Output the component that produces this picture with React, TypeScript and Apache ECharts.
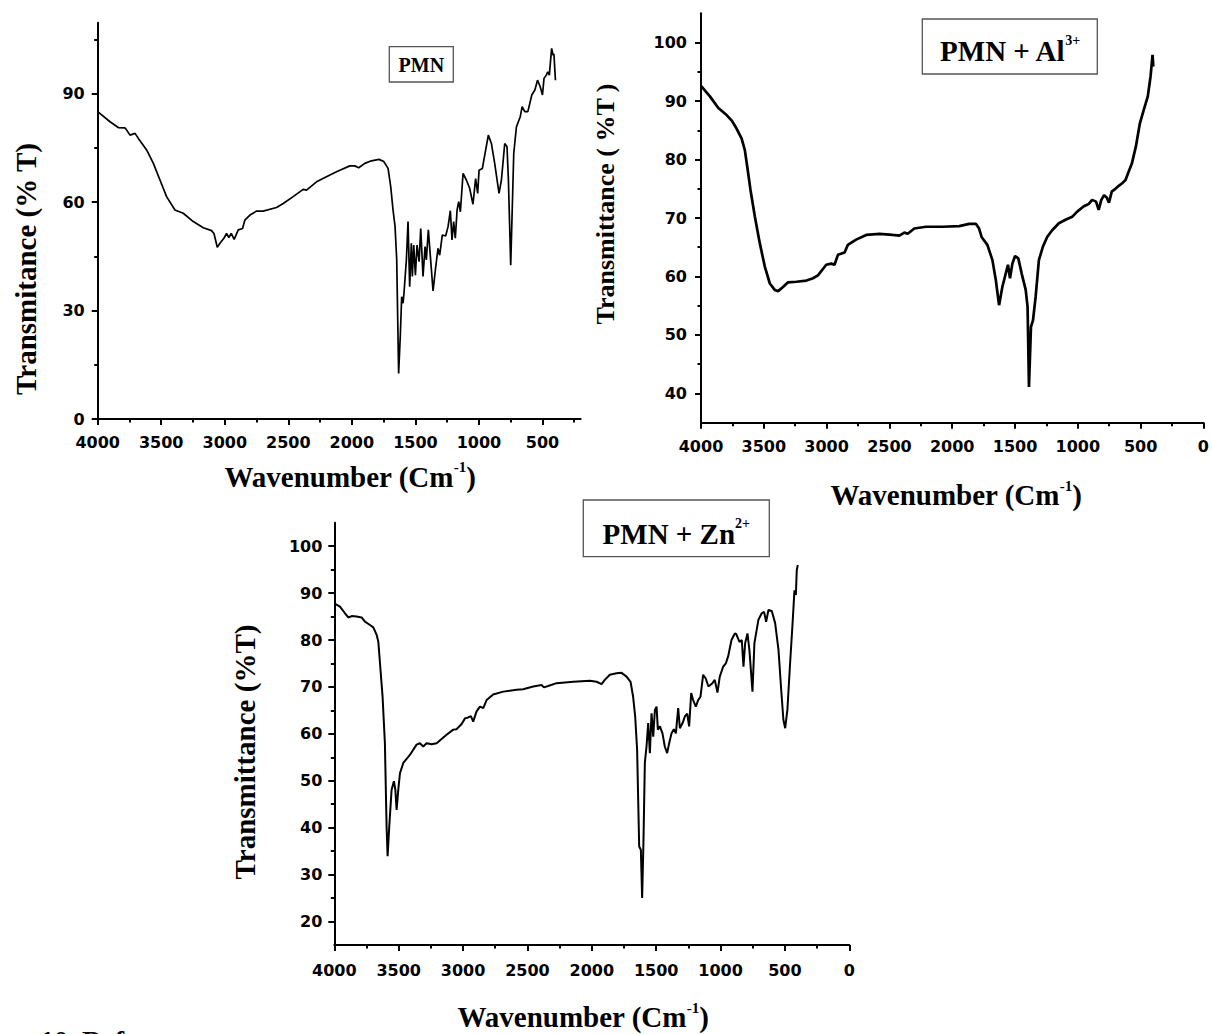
import React, { useEffect, useRef } from "react";
import * as echarts from "echarts";

// ---------- data ----------
const pmnWavenumber = [4000, 3903, 3838, 3785, 3772, 3746, 3706, 3680, 3615, 3562, 3510, 3458, 3392, 3327, 3248, 3169, 3104, 3085, 3059, 3038, 3007, 2986, 2968, 2949, 2926, 2894, 2860, 2842, 2802, 2750, 2698, 2593, 2540, 2462, 2383, 2357, 2278, 2200, 2121, 2016, 1977, 1946, 1898, 1846, 1786, 1749, 1715, 1694, 1676, 1660, 1647, 1632, 1618, 1608, 1597, 1590, 1571, 1558, 1545, 1532, 1524, 1513, 1500, 1487, 1471, 1458, 1440, 1424, 1414, 1398, 1382, 1361, 1340, 1322, 1309, 1288, 1262, 1243, 1225, 1212, 1199, 1186, 1172, 1159, 1146, 1125, 1099, 1073, 1047, 1026, 1010, 999, 973, 926, 902, 876, 842, 823, 797, 779, 768, 750, 726, 705, 675, 660, 639, 615, 584, 560, 539, 518, 500, 488, 470, 458, 446, 428, 416, 410, 398];
const pmnTransmittance = [85, 82.2, 80.6, 80.5, 79.9, 78.5, 79, 77.6, 74.4, 70.7, 66.1, 61.5, 57.8, 56.9, 54.6, 52.9, 52.1, 51.3, 47.5, 48.6, 50, 51.3, 50.2, 51.3, 49.7, 52.3, 52.7, 55, 56.4, 57.5, 57.5, 58.5, 59.6, 61.5, 63.5, 63.3, 65.6, 67, 68.4, 70, 70, 69.5, 70.7, 71.4, 71.8, 71.2, 69.3, 64.2, 57.8, 53.2, 44, 12.6, 23.7, 33.8, 32, 34.7, 44, 54.6, 36.6, 48.6, 39.4, 48.1, 39.8, 48.1, 43.5, 52.7, 39.4, 47.7, 44, 52.3, 44.9, 35.4, 42.1, 47.2, 45.3, 50.9, 50.6, 53.2, 57.6, 49.5, 54.6, 50, 57.8, 60.1, 57.3, 67.9, 66.1, 63.8, 59.4, 66.5, 62.4, 68.8, 69.3, 78.5, 76.2, 70.7, 62.4, 66.1, 76.2, 75.3, 66, 42.5, 73.5, 80.8, 83.6, 86.4, 85, 85, 89.6, 91, 93.7, 91.9, 89.6, 94.2, 95.1, 96, 95.1, 102.5, 100.6, 101, 93.7];

const alWavenumber = [4000, 3929, 3862, 3796, 3757, 3717, 3677, 3651, 3632, 3606, 3571, 3532, 3492, 3452, 3413, 3386, 3347, 3307, 3241, 3161, 3108, 3069, 3003, 2963, 2937, 2910, 2857, 2831, 2765, 2685, 2579, 2474, 2421, 2381, 2354, 2302, 2209, 2077, 1944, 1865, 1812, 1786, 1765, 1720, 1680, 1653, 1627, 1601, 1574, 1556, 1540, 1521, 1500, 1474, 1447, 1415, 1400, 1389, 1373, 1357, 1336, 1310, 1278, 1243, 1204, 1151, 1098, 1045, 1005, 952, 913, 886, 855, 834, 813, 791, 770, 752, 730, 712, 680, 649, 620, 601, 570, 538, 506, 475, 443, 421, 405, 399];
const alTransmittance = [92.6, 90.8, 88.8, 87.6, 86.7, 85.3, 83.6, 81.6, 78.8, 74.8, 70.2, 65.7, 61.7, 58.8, 57.7, 57.5, 58.2, 59, 59.1, 59.3, 59.7, 60.2, 62, 62.2, 62, 63.7, 64.1, 65.4, 66.3, 67.1, 67.3, 67.1, 67, 67.5, 67.3, 68.2, 68.5, 68.5, 68.6, 69, 69, 68.2, 66.7, 65.4, 62.8, 59.4, 55.1, 58.2, 60.5, 62, 59.7, 62.2, 63.5, 63.1, 60.5, 57.7, 54.8, 41.1, 51.4, 52.5, 56.5, 62.8, 65.1, 66.8, 67.9, 69.1, 69.7, 70.2, 71.1, 72, 72.4, 73.1, 72.8, 71.4, 73.1, 73.9, 73.5, 72.6, 74.5, 74.8, 75.4, 75.9, 76.5, 77.6, 79.3, 82.2, 86.2, 88.5, 90.8, 94.2, 97.9, 95.9];

const znWavenumber = [4000, 3956, 3917, 3891, 3865, 3827, 3788, 3762, 3723, 3697, 3671, 3658, 3645, 3625, 3607, 3594, 3586, 3573, 3555, 3537, 3526, 3516, 3503, 3490, 3464, 3413, 3361, 3335, 3309, 3283, 3244, 3205, 3167, 3128, 3076, 3050, 3011, 2985, 2960, 2939, 2921, 2895, 2869, 2843, 2817, 2766, 2688, 2584, 2533, 2455, 2390, 2372, 2339, 2274, 2144, 2015, 1963, 1924, 1899, 1860, 1808, 1769, 1730, 1699, 1679, 1663, 1648, 1632, 1619, 1609, 1599, 1588, 1575, 1562, 1549, 1536, 1523, 1510, 1497, 1487, 1471, 1451, 1433, 1415, 1399, 1381, 1363, 1347, 1329, 1316, 1295, 1277, 1259, 1244, 1228, 1213, 1192, 1174, 1156, 1135, 1115, 1094, 1063, 1045, 1024, 1006, 980, 959, 941, 915, 889, 879, 853, 835, 822, 809, 791, 776, 752, 737, 724, 706, 680, 662, 646, 628, 602, 576, 550, 529, 512, 498, 481, 460, 439, 426, 415, 408, 400];
const znTransmittance = [87.8, 87.1, 85.7, 84.8, 85.1, 85, 84.8, 83.9, 83.2, 82.7, 81.1, 79.6, 75, 67.9, 58, 40.3, 33.9, 40.3, 48.1, 49.9, 48.1, 43.8, 48.1, 51.6, 53.8, 55.5, 57.7, 58, 57.3, 58, 57.8, 58, 58.9, 59.8, 60.9, 61, 62.1, 63.3, 63.5, 63.8, 62.6, 64.8, 65.8, 65.5, 67.2, 68.4, 69, 69.4, 69.5, 70.1, 70.4, 69.9, 70.2, 70.8, 71.1, 71.3, 71.1, 70.6, 71.5, 72.6, 72.9, 73, 72.2, 71.1, 67.9, 63.7, 56.6, 36, 35.3, 25, 36.7, 53.8, 57.3, 62.3, 55.9, 64.4, 59.4, 65.1, 65.8, 60.9, 61.6, 60.1, 57.3, 55.9, 58, 60.1, 61, 60.1, 65.5, 61.2, 62.3, 63.7, 64.3, 61.6, 68.7, 67.2, 65.8, 67.2, 67.9, 72.6, 71.8, 70.1, 70.8, 71.5, 68.8, 72.2, 74.3, 75, 76.5, 80, 81.4, 81.3, 79.6, 80, 74.3, 79.3, 81.4, 77.9, 69, 79.3, 81.4, 84.3, 85.7, 86, 83.9, 86.4, 86.2, 83.6, 77.9, 69.4, 63, 61.2, 65.1, 75, 84.3, 90.6, 89.6, 94.9, 96];

// tick labels / tick positions
const p1XMajor = [4000, 3500, 3000, 2500, 2000, 1500, 1000, 500];
const p1XMinor = [3750, 3250, 2750, 2250, 1750, 1250, 750, 250];
const p1YMajor = [0, 30, 60, 90];
const p1YMinor = [15, 45, 75, 105];
const p2XMajor = [4000, 3500, 3000, 2500, 2000, 1500, 1000, 500, 0];
const p2XMinor = [3750, 3250, 2750, 2250, 1750, 1250, 750, 250];
const p2YMajor = [40, 50, 60, 70, 80, 90, 100];
const p2YMinor = [45, 55, 65, 75, 85, 95];
const p3XMajor = [4000, 3500, 3000, 2500, 2000, 1500, 1000, 500, 0];
const p3XMinor = [3750, 3250, 2750, 2250, 1750, 1250, 750, 250];
const p3YMajor = [20, 30, 40, 50, 60, 70, 80, 90, 100];
const p3YMinor = [25, 35, 45, 55, 65, 75, 85, 95];

const SERIF = "'Liberation Serif', 'Times New Roman', serif";
const SANS = "'DejaVu Sans', sans-serif";

function pairs(xs: number[], ys: number[]) {
  return xs.map((x, i) => [x, ys[i]]);
}

const plainNumber = (v: number) => String(v);

function xAxisMain(grid: number, min: number, max: number, major: number[], margin: number) {
  return {
    type: "value", gridIndex: grid, min, max, inverse: true, position: "bottom",
    axisLine: { show: true, onZero: false, lineStyle: { color: "#000", width: 2 } },
    axisTick: { show: true, customValues: major, length: 6, lineStyle: { color: "#000", width: 2 } },
    axisLabel: { show: true, customValues: major, formatter: plainNumber, margin, color: "#000", fontFamily: SANS, fontWeight: "bold", fontSize: 16, hideOverlap: false },
    splitLine: { show: false },
  };
}
function xAxisMinor(grid: number, min: number, max: number, minor: number[]) {
  return {
    type: "value", gridIndex: grid, min, max, inverse: true, position: "bottom",
    axisLine: { show: false, onZero: false },
    axisTick: { show: true, customValues: minor, length: 3.5, lineStyle: { color: "#000", width: 2 } },
    axisLabel: { show: false },
    splitLine: { show: false },
  };
}
function yAxisMain(grid: number, min: number, max: number, major: number[], margin: number) {
  return {
    type: "value", gridIndex: grid, min, max, position: "left",
    axisLine: { show: true, onZero: false, lineStyle: { color: "#000", width: 2 } },
    axisTick: { show: true, customValues: major, length: 6, lineStyle: { color: "#000", width: 2 } },
    axisLabel: { show: true, customValues: major, formatter: plainNumber, margin, color: "#000", fontFamily: SANS, fontWeight: "bold", fontSize: 16, hideOverlap: false },
    splitLine: { show: false },
  };
}
function yAxisMinor(grid: number, min: number, max: number, minor: number[]) {
  return {
    type: "value", gridIndex: grid, min, max, position: "left",
    axisLine: { show: false, onZero: false },
    axisTick: { show: true, customValues: minor, length: 3.5, lineStyle: { color: "#000", width: 2 } },
    axisLabel: { show: false },
    splitLine: { show: false },
  };
}

function xTitle(cx: number, cy: number) {
  return {
    type: "text", x: cx, y: cy, silent: true,
    style: {
      text: "{m|Wavenumber (Cm}{s|-1}{m|)}",
      align: "center", verticalAlign: "middle",
      rich: {
        m: { fontFamily: SERIF, fontWeight: "bold", fontSize: 29, lineHeight: 34, fill: "#000" },
        s: { fontFamily: SERIF, fontWeight: "bold", fontSize: 15, lineHeight: 8, verticalAlign: "top", fill: "#000" },
      },
    },
  };
}
function yTitle(cx: number, cy: number, text: string, size: number) {
  return {
    type: "text", x: cx, y: cy, rotation: Math.PI / 2, silent: true,
    style: { text, align: "center", verticalAlign: "middle", fontFamily: SERIF, fontWeight: "bold", fontSize: size, fill: "#000" },
  };
}
function boxLabel(x: number, y: number, w: number, h: number, cy: number, main: string, sup: string, size: number, supSize: number) {
  const richText = sup ? `{m|${main}}{s|${sup}}` : `{m|${main}}`;
  return [
    { type: "rect", silent: true, shape: { x, y, width: w, height: h }, style: { fill: "#fff", stroke: "#555", lineWidth: 1.3 } },
    {
      type: "text", x: x + w / 2, y: cy, silent: true,
      style: {
        text: richText, align: "center", verticalAlign: "middle",
        rich: {
          m: { fontFamily: SERIF, fontWeight: "bold", fontSize: size, lineHeight: size + 5, fill: "#000" },
          s: { fontFamily: SERIF, fontWeight: "bold", fontSize: supSize, lineHeight: 6, verticalAlign: "top", fill: "#000" },
        },
      },
    },
  ];
}

export default function App() {
  const ref = useRef<HTMLDivElement>(null);
  useEffect(() => {
    if (!ref.current) return;
    const chart = echarts.init(ref.current, null, { renderer: "svg" });
    const option: any = {
      animation: false,
      backgroundColor: "#fff",
      grid: [
        { left: 97.7, top: 22.7, width: 482.9, height: 396.3 },
        { left: 701, top: 13.3, width: 503.7, height: 409.4 },
        { left: 334.3, top: 522.7, width: 515, height: 422.3 },
      ],
      xAxis: [
        xAxisMain(0, 200, 4000, p1XMajor, 15),
        xAxisMinor(0, 200, 4000, p1XMinor),
        xAxisMain(1, 0, 4000, p2XMajor, 16),
        xAxisMinor(1, 0, 4000, p2XMinor),
        xAxisMain(2, 0, 4000, p3XMajor, 17),
        xAxisMinor(2, 0, 4000, p3XMinor),
      ],
      yAxis: [
        yAxisMain(0, 0, 109.6, p1YMajor, 13),
        yAxisMinor(0, 0, 109.6, p1YMinor),
        yAxisMain(1, 35, 105, p2YMajor, 14),
        yAxisMinor(1, 35, 105, p2YMinor),
        yAxisMain(2, 15, 105, p3YMajor, 12),
        yAxisMinor(2, 15, 105, p3YMinor),
      ],
      series: [
        { name: "PMN", type: "line", xAxisIndex: 0, yAxisIndex: 0, data: pairs(pmnWavenumber, pmnTransmittance), showSymbol: false, symbol: "none", lineStyle: { color: "#000", width: 1.7 }, silent: true },
        { name: "PMN + Al3+", type: "line", xAxisIndex: 2, yAxisIndex: 2, data: pairs(alWavenumber, alTransmittance), showSymbol: false, symbol: "none", lineStyle: { color: "#000", width: 2.7 }, silent: true },
        { name: "PMN + Zn2+", type: "line", xAxisIndex: 4, yAxisIndex: 4, data: pairs(znWavenumber, znTransmittance), showSymbol: false, symbol: "none", lineStyle: { color: "#000", width: 2 }, silent: true },
      ],
      graphic: [
        ...boxLabel(389.3, 46.7, 64, 35.3, 65, "PMN", "", 20, 12),
        ...boxLabel(922.3, 19, 175, 55, 50.5, "PMN + Al", "3+", 29, 14),
        ...boxLabel(583.3, 500, 186, 56.7, 533.7, "PMN + Zn", "2+", 29, 14),
        xTitle(350, 476.5),
        xTitle(956, 495.3),
        xTitle(583, 1017),
        yTitle(26, 269, "Transmitance (% T)", 29),
        yTitle(605, 204, "Transmittance ( %T )", 26),
        yTitle(245, 752, "Transmittance (%T)", 29),
        {
          type: "text", x: 40, y: 1040, silent: true,
          style: { text: "10. References", align: "left", verticalAlign: "middle", fontFamily: SERIF, fontWeight: "bold", fontSize: 28, fill: "#000" },
        },
      ],
    };
    chart.setOption(option);
    return () => chart.dispose();
  }, []);
  return (
    <div
      ref={ref}
      style={{ position: "absolute", left: 0, top: 0, width: 1212, height: 1034, background: "#fff" }}
    />
  );
}
